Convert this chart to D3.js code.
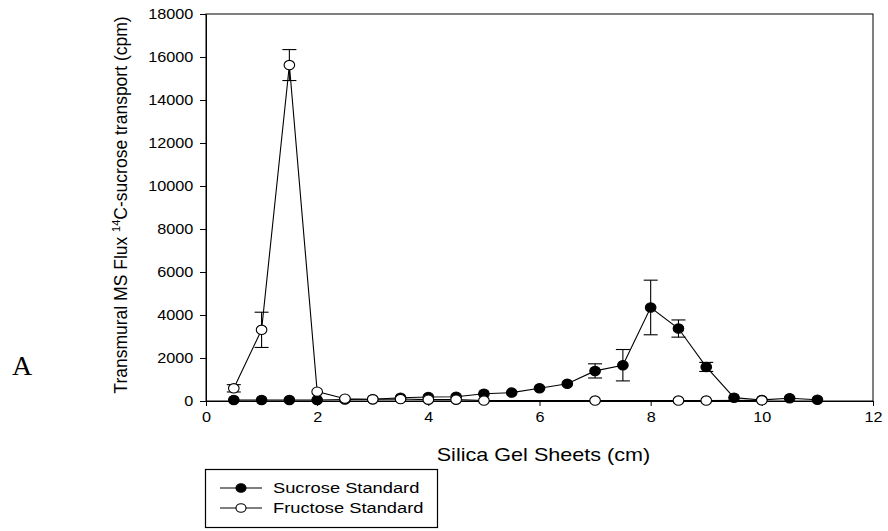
<!DOCTYPE html>
<html>
<head>
<meta charset="utf-8">
<script src="https://cdn.jsdelivr.net/npm/d3@7"></script>
<style>
html,body{margin:0;padding:0;background:#fff;}
svg{display:block;}
</style>
</head>
<body>
<svg id="chart" width="888" height="531"></svg>
<script>
// ---- data ----
const sucroseX   = [0.5,1.0,1.5,2.0,2.5,3.0,3.5,4.0,4.5,5.0,5.5,6.0,6.5,7.0,7.5,8.0,8.5,9.0,9.5,10.0,10.5,11.0];
const sucroseY   = [50,50,50,50,70,80,150,185,200,340,390,590,800,1400,1665,4350,3370,1585,155,50,125,60];
const sucroseErr = [0,0,0,0,0,0,0,0,0,0,0,0,0,330,730,1270,400,210,0,0,0,0];
const fructoseX   = [0.5,1.0,1.5,2.0,2.5,3.0,3.5,4.0,4.5,5.0,7.0,8.5,9.0,10.0];
const fructoseY   = [590,3310,15625,435,107,80,90,62,62,20,20,20,20,30];
const fructoseErr = [170,820,720,0,0,0,0,0,0,0,0,0,0,0];
const xTicks = [0,2,4,6,8,10,12];
const yTicks = [0,2000,4000,6000,8000,10000,12000,14000,16000,18000];
const legendLabels = ["Sucrose Standard","Fructose Standard"];

const SANS = "'Liberation Sans', Arial, sans-serif";
const svg = d3.select("#chart");
const L=206, R=873, T=14, B=401;
const x = d3.scaleLinear().domain([0,12]).range([L,R]);
const y = d3.scaleLinear().domain([0,18000]).range([B,T]);

// frame
svg.append("rect").attr("x",L).attr("y",T).attr("width",R-L).attr("height",B-T)
  .attr("fill","none").attr("stroke","#000").attr("stroke-width",1);

// axes
const xAxis = d3.axisBottom(x).tickValues(xTicks).tickSize(5).tickSizeOuter(0).tickPadding(6);
const gx = svg.append("g").attr("transform",`translate(0,${B})`).call(xAxis);
const yAxis = d3.axisLeft(y).tickValues(yTicks).tickSize(6).tickSizeOuter(0).tickPadding(6).tickFormat(d3.format("d"));
const gy = svg.append("g").attr("transform",`translate(${L},0)`).call(yAxis);
[gx,gy].forEach(g=>{
  g.select(".domain").attr("stroke","#000");
  g.selectAll(".tick line").attr("stroke","#000");
  g.selectAll(".tick text").style("font-family",SANS)
    .style("font-size","14.5px").attr("fill","#000");
});
// horizontally widen tick labels like the reference
gy.selectAll(".tick text").each(function(){
  const t=d3.select(this); t.attr("transform","translate(-6,0) scale(1.12,1) translate(6,0)");
});
gx.selectAll(".tick text").attr("transform","scale(1.12,1)");

// axis titles
const cx0=(L+R)/2+4;
svg.append("text").attr("x",cx0).attr("y",461).attr("text-anchor","middle")
  .attr("transform",`translate(${cx0},0) scale(1.2,1) translate(${-cx0},0)`)
  .style("font-family",SANS).style("font-size","18px").text("Silica Gel Sheets (cm)");
const yl = svg.append("text").attr("transform","translate(127,205) rotate(-90)")
  .attr("text-anchor","middle").style("font-family",SANS).style("font-size","17.5px");
yl.append("tspan").text("Transmural MS Flux  ");
yl.append("tspan").style("font-size","11px").attr("dy",-7).text("14");
yl.append("tspan").attr("dy",7).text("C-sucrose transport (cpm)");

// panel label
svg.append("text").attr("x",12).attr("y",375)
  .style("font-family","'Liberation Serif', 'Times New Roman', serif")
  .style("font-size","28px").text("A");

function drawSeries(xs, ys, es, filled){
  const pts = xs.map((d,i)=>({x:d,y:ys[i],e:es[i]}));
  svg.append("path").datum(pts)
    .attr("d", d3.line().x(d=>x(d.x)).y(d=>y(d.y)))
    .attr("fill","none").attr("stroke","#000").attr("stroke-width",1.1);
  const eb = svg.append("g").attr("stroke","#000").attr("stroke-width",1.1);
  pts.filter(d=>d.e>0).forEach(d=>{
    const cx=x(d.x), y1=y(d.y+d.e), y0=y(d.y-d.e);
    eb.append("line").attr("x1",cx).attr("x2",cx).attr("y1",y1).attr("y2",y0);
    eb.append("line").attr("x1",cx-7).attr("x2",cx+7).attr("y1",y1).attr("y2",y1);
    eb.append("line").attr("x1",cx-7).attr("x2",cx+7).attr("y1",y0).attr("y2",y0);
  });
  svg.append("g").selectAll("ellipse").data(pts).join("ellipse")
    .attr("cx",d=>x(d.x)).attr("cy",d=>y(d.y))
    .attr("rx",5.3).attr("ry",4.7)
    .attr("fill",filled?"#000":"#fff").attr("stroke","#000").attr("stroke-width",1.1);
}
drawSeries(sucroseX, sucroseY, sucroseErr, true);
drawSeries(fructoseX, fructoseY, fructoseErr, false);

// legend
const lg = svg.append("g");
lg.append("rect").attr("x",205.5).attr("y",469.5).attr("width",232).attr("height",58)
  .attr("fill","#fff").attr("stroke","#000").attr("stroke-width",1.2);
legendLabels.forEach((lab,i)=>{
  const yy = 488 + i*20;
  lg.append("line").attr("x1",220).attr("x2",262).attr("y1",yy).attr("y2",yy)
    .attr("stroke","#000").attr("stroke-width",1.1);
  lg.append("ellipse").attr("cx",241).attr("cy",yy).attr("rx",5).attr("ry",4.3)
    .attr("fill",i===0?"#000":"#fff").attr("stroke","#000").attr("stroke-width",1.1);
  lg.append("text").attr("x",273).attr("y",yy+5.5)
    .style("font-family",SANS).style("font-size","15px")
    .attr("transform",`translate(273,0) scale(1.22,1) translate(-273,0)`).text(lab);
});
</script>
</body>
</html>
